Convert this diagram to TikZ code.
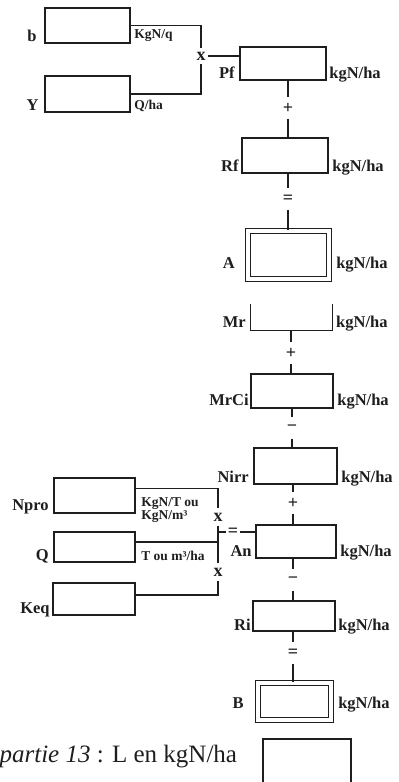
\documentclass[tikz,border=0pt]{standalone}
\usepackage{fontspec}
\setmainfont{Liberation Serif}[BoldFont=* Bold, ItalicFont=* Italic]
\usetikzlibrary{positioning}
\definecolor{cink}{HTML}{1E1E1E}
\tikzset{
  every picture/.style={line width=1.2pt},
  box/.style={draw=cink, line width=1.5pt, inner sep=0pt},
  dbox/.style={box, double, double distance=4pt, line width=1.3pt},
  lab/.style={font=\fontsize{16.5}{18}\selectfont\bfseries, text=cink, inner sep=0pt},
  unit/.style={font=\fontsize{13.5}{13.5}\selectfont\bfseries, text=cink, inner sep=0pt, align=left},
  op/.style={font=\fontsize{18}{18}\selectfont\bfseries, text=cink, inner sep=0pt, minimum height=20pt, minimum width=12pt},
  link/.style={draw=cink, line width=1.2pt},
  note/.style={font=\fontsize{25}{27}\selectfont, text=cink, inner sep=0pt},
}

\begin{document}
\begin{tikzpicture}[x=1pt, y=-1pt]
  \useasboundingbox (0,0) rectangle (399,782);
  % inputs of Pf
  \node[box, minimum width=85pt, minimum height=35pt] (b) at (87.5,25.5) {};
  \node[box, minimum width=85pt, minimum height=36pt] (Y) at (87.5,94) {};
  \node[lab, anchor=base east] (bN) at ([xshift=-7pt, yshift=2pt]b.south west) {b};
  \node[lab, anchor=base east] (YN) at ([xshift=-5pt, yshift=2pt]Y.south west) {Y};
  \node[unit, anchor=base west] (bU) at ([xshift=3pt, yshift=5pt]b.south east) {KgN/q};
  \node[unit, anchor=base west] (YU) at ([xshift=3pt, yshift=3pt]Y.south east) {Q/ha};
  \node[op, minimum height=14pt] (x1) at (201,56) {x};
  \draw[link] (b.east) -| (x1.north);
  \draw[link] (Y.east) -| (x1.south);
  % main column
  \node[box, minimum width=86pt, minimum height=33pt] (Pf) at (283,63.5) {};
  \node[box, minimum width=86pt, minimum height=35pt] (Rf) at (285,155.5) {};
  \node[dbox, minimum width=81pt, minimum height=48pt] (A) at (288.5,255) {};
  \node[inner sep=0pt, minimum width=81pt, minimum height=25pt] (Mr) at (291.5,317.5) {};
  \node[box, minimum width=82pt, minimum height=34pt] (MrCi) at (292,391) {};
  \node[box, minimum width=83pt, minimum height=36pt] (Nirr) at (295.5,466) {};
  \node[box, minimum width=80pt, minimum height=33pt] (An) at (296,541.5) {};
  \node[box, minimum width=82pt, minimum height=30pt] (Ri) at (294,616) {};
  \node[dbox, minimum width=73pt, minimum height=37pt] (B) at (294.5,701.5) {};
  \draw[box] (Mr.north west) -- (Mr.south west) -- (Mr.south east) -- (Mr.north east);
  \draw[link] (x1.east) -- (x1.east -| Pf.west);
  % names and units
  \node[lab, anchor=base east] (PfN) at ([xshift=-4pt, yshift=2pt]Pf.south west) {Pf};
  \node[lab, anchor=base east] (RfN) at ([xshift=-2pt, yshift=2pt]Rf.south west) {Rf};
  \node[lab, anchor=base east] (AN) at ([xshift=-12pt, yshift=-13pt]A.west) {A};
  \node[lab, anchor=base east] (MrN) at ([xshift=-4pt, yshift=3pt]Mr.south west) {Mr};
  \node[lab, anchor=base east] (MrCiN) at ([xshift=-1pt, yshift=3pt]MrCi.south west) {MrCi};
  \node[lab, anchor=base east] (NirrN) at ([xshift=-4pt, yshift=2pt]Nirr.south west) {Nirr};
  \node[lab, anchor=base east] (AnN) at ([xshift=-3pt, yshift=2pt]An.south west) {An};
  \node[lab, anchor=base east] (RiN) at ([xshift=-1pt, yshift=1pt]Ri.south west) {Ri};
  \node[lab, anchor=base east] (BN) at ([xshift=-13pt, yshift=-6.5pt]B.west) {B};
  \node[lab, anchor=base west] (PfU) at ([xshift=2pt, yshift=2pt]Pf.south east) {kgN/ha};
  \node[lab, anchor=base west] (RfU) at ([xshift=3pt, yshift=2pt]Rf.south east) {kgN/ha};
  \node[lab, anchor=base west] (AU) at ([xshift=6pt, yshift=-13pt]A.east) {kgN/ha};
  \node[lab, anchor=base west] (MrU) at ([xshift=3pt, yshift=3pt]Mr.south east) {kgN/ha};
  \node[lab, anchor=base west] (MrCiU) at ([xshift=3pt, yshift=3pt]MrCi.south east) {kgN/ha};
  \node[lab, anchor=base west] (NirrU) at ([xshift=3pt, yshift=2pt]Nirr.south east) {kgN/ha};
  \node[lab, anchor=base west] (AnU) at ([xshift=3pt, yshift=2pt]An.south east) {kgN/ha};
  \node[lab, anchor=base west] (RiU) at ([xshift=2pt, yshift=1pt]Ri.south east) {kgN/ha};
  \node[lab, anchor=base west] (BU) at ([xshift=6pt, yshift=-6.5pt]B.east) {kgN/ha};
  % operators
  \node[op] (p1) at (288,108) {+};
  \node[op] (e1) at (288,199) {=};
  \node[op] (p2) at (291,353) {+};
  \node[op] (m1) at (292,428) {−};
  \node[op] (p3) at (293,503) {+};
  \node[op] (m2) at (293,580) {−};
  \node[op] (e2) at (293,653) {=};
  \draw[link] (Pf.south -| p1) -- (p1);
  \draw[link] (p1) -- (p1 |- Rf.north);
  \draw[link] (Rf.south -| e1) -- (e1);
  \draw[link] (e1) -- (e1 |- A.north);
  \draw[link] (Mr.south -| p2) -- (p2);
  \draw[link] (p2) -- (p2 |- MrCi.north);
  \draw[link] (MrCi.south -| m1) -- (m1);
  \draw[link] (m1) -- (m1 |- Nirr.north);
  \draw[link] (Nirr.south -| p3) -- (p3);
  \draw[link] (p3) -- (p3 |- An.north);
  \draw[link] (An.south -| m2) -- (m2);
  \draw[link] (m2) -- (m2 |- Ri.north);
  \draw[link] (Ri.south -| e2) -- (e2);
  \draw[link] (e2) -- (e2 |- B.north);
  % inputs of An
  \node[box, minimum width=81pt, minimum height=35pt] (Npro) at (94.5,495.5) {};
  \node[box, minimum width=81pt, minimum height=30pt] (Q) at (94.5,547) {};
  \node[box, minimum width=82pt, minimum height=32pt] (Keq) at (94,599) {};
  \node[lab, anchor=base east] (NproN) at ([xshift=-4pt, yshift=3pt]Npro.south west) {Npro};
  \node[lab, anchor=base east] (QN) at ([xshift=-4pt, yshift=2pt]Q.south west) {Q};
  \node[lab, anchor=base east] (KeqN) at ([xshift=-2pt, yshift=2pt]Keq.south west) {Keq};
  \node[unit, anchor=north west] (NproU) at ([xshift=5pt, yshift=17pt]Npro.south east) {KgN/T ou\\KgN/m³};
  \node[unit, anchor=base west] (QU) at ([xshift=5pt, yshift=2pt]Q.south east) {T ou m³/ha};
  \node[op, minimum height=16pt] (x2) at (218,517) {x};
  \node[op, minimum height=16pt] (x3) at (218,572) {x};
  \node[op, minimum height=12pt] (e3) at (233,532) {=};
  \draw[link] ([yshift=7pt]Npro.east) -| (x2.north);
  \draw[link] (x2) -- (x3);
  \draw[link] ([yshift=5pt]Q.east) -- ([yshift=5pt]Q.east -| x2);
  \draw[link] ([yshift=4pt]Keq.east) -| (x3.south);
  \draw[link] (x2 |- e3) -- (e3.west);
  \draw[link] (e3.east) -- (e3.east -| An.west);
  % next part
  \node[note, anchor=base west] (cap) at (-1,762) {\textit{partie 13} : L en kgN/ha};
  \node[box, minimum width=88pt, minimum height=62pt] (L) at (307,770) {};
\end{tikzpicture}
\end{document}
